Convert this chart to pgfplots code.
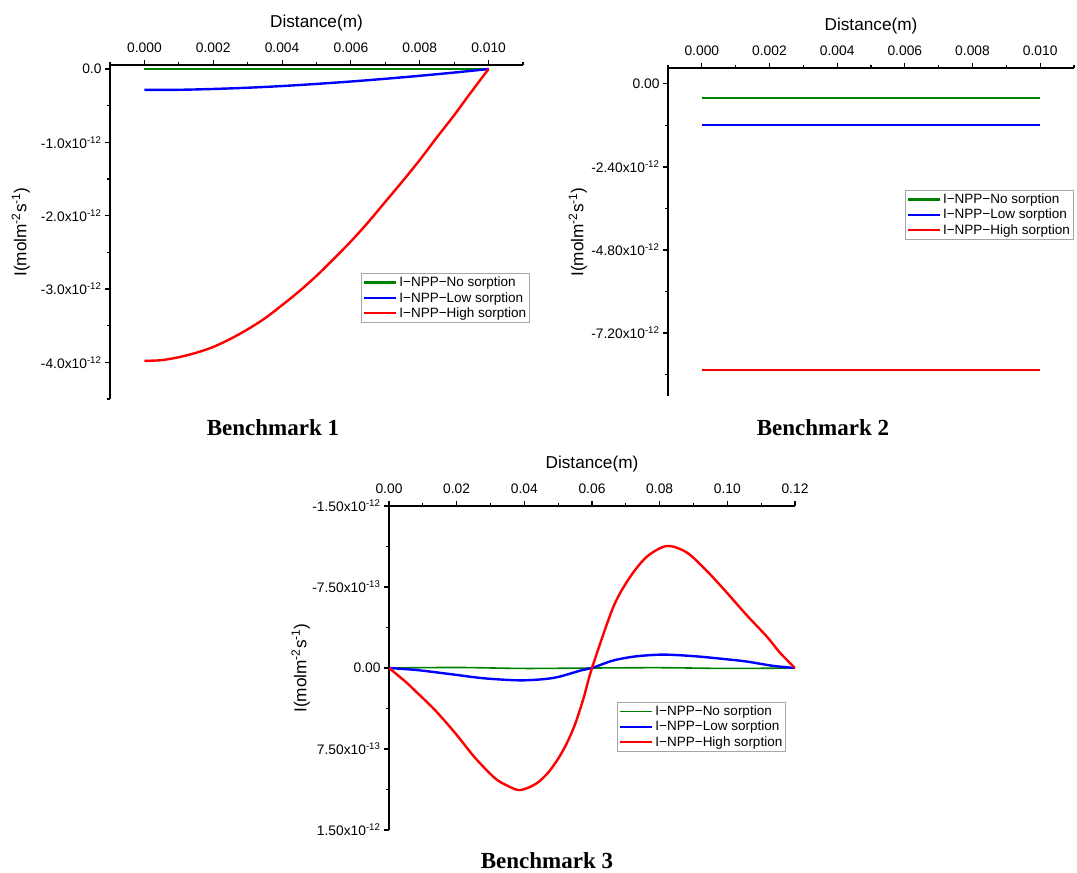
\documentclass[border=0pt]{standalone}
\usepackage{pgfplots}
\pgfplotsset{compat=1.18}
\usepackage{fontspec}
\setmainfont{Liberation Sans}
\newfontfamily\benchfont{Liberation Serif}
\definecolor{cgreen}{RGB}{0,128,0}
\definecolor{cblue}{RGB}{0,0,255}
\definecolor{cred}{RGB}{255,0,0}
\pgfplotsset{
  bench/.style={
    scale only axis,
    axis x line=top, axis y line=left,
    axis line style={-, line width=1.4pt},
    tick align=outside,
    major tick length=5pt, minor tick length=3pt,
    every tick/.style={black, line width=1.1pt},
    tick label style={font=\fontsize{13.8}{16}\selectfont},
    xticklabel style={yshift=4pt},
    scaled x ticks=false, scaled y ticks=false,
    label style={font=\fontsize{17.2}{20}\selectfont},
    xlabel={Distance(m)},
    ylabel={I(molm\textsuperscript{-2}s\textsuperscript{-1})},
    xlabel style={at={(axis description cs:0.5,1)}, anchor=center, yshift=42pt},
    legend style={font=\fontsize{13.5}{16.5}\selectfont, draw=gray!70, line width=0.8pt, anchor=north west, inner sep=1.5pt, row sep=0pt},
    legend cell align=left,
    legend image code/.code={\draw[#1] (0pt,0pt) -- (32pt,0pt);},
  }
}
\begin{document}
\begin{tikzpicture}
\useasboundingbox (0pt,0pt) rectangle (1077pt,-873pt);
% ---------------- Benchmark 1
\begin{axis}[bench,
  at={(110pt,-399pt)}, anchor=south west,
  width=413pt, height=334pt,
  xmin=-0.001, xmax=0.011, ymin=-4.5, ymax=0.055,
  xtick={0,0.002,0.004,0.006,0.008,0.010},
  xticklabels={0.000,0.002,0.004,0.006,0.008,0.010},
  minor xtick={-0.001,0.001,0.003,0.005,0.007,0.009,0.011},
  ytick={0,-1,-2,-3,-4},
  yticklabels={0.0,-1.0x10\textsuperscript{-12},-2.0x10\textsuperscript{-12},-3.0x10\textsuperscript{-12},-4.0x10\textsuperscript{-12}},
  minor ytick={-0.5,-1.5,-2.5,-3.5,-4.5},
  ylabel style={at={(axis description cs:-0.216,0.5)}, anchor=center},
  legend style={at={(axis description cs:0.608,0.377)}},
]
\addplot[cgreen, line width=2.4pt] coordinates {(0,0) (0.002,0) (0.004,0) (0.006,0) (0.008,0) (0.010,0)};
\addplot[cblue, line width=2.4pt, smooth] coordinates {(0,-0.285) (0.001,-0.283) (0.002,-0.272) (0.003,-0.255) (0.004,-0.232) (0.005,-0.203) (0.006,-0.170) (0.007,-0.133) (0.008,-0.092) (0.009,-0.048) (0.010,0)};
\addplot[cred, line width=2.4pt, smooth] coordinates {(0,-3.98) (0.0005,-3.97) (0.001,-3.93) (0.0015,-3.87) (0.002,-3.79) (0.0025,-3.68) (0.003,-3.55) (0.0035,-3.40) (0.004,-3.22) (0.0045,-3.03) (0.005,-2.82) (0.0055,-2.59) (0.006,-2.35) (0.0065,-2.09) (0.007,-1.81) (0.0075,-1.53) (0.008,-1.24) (0.0085,-0.93) (0.009,-0.63) (0.0095,-0.31) (0.010,0)};
\legend{I\textminus NPP\textminus No sorption, I\textminus NPP\textminus Low sorption, I\textminus NPP\textminus High sorption}
\end{axis}
% ---------------- Benchmark 2
\begin{axis}[bench,
  at={(668pt,-396pt)}, anchor=south west,
  width=406pt, height=328pt,
  xmin=-0.001, xmax=0.011, ymin=-9.02, ymax=0.46,
  xtick={0,0.002,0.004,0.006,0.008,0.010},
  xticklabels={0.000,0.002,0.004,0.006,0.008,0.010},
  minor xtick={-0.001,0.001,0.003,0.005,0.007,0.009,0.011},
  ytick={0,-2.4,-4.8,-7.2},
  yticklabels={0.00,-2.40x10\textsuperscript{-12},-4.80x10\textsuperscript{-12},-7.20x10\textsuperscript{-12}},
  minor ytick={-1.2,-3.6,-6.0,-8.4},
  ylabel style={at={(axis description cs:-0.222,0.5)}, anchor=center},
  legend style={at={(axis description cs:0.583,0.628)}},
]
\addplot[cgreen, line width=2.4pt] coordinates {(0,-0.40) (0.002,-0.40) (0.004,-0.40) (0.006,-0.40) (0.008,-0.40) (0.010,-0.40)};
\addplot[cblue, line width=2.4pt] coordinates {(0,-1.19) (0.002,-1.19) (0.004,-1.19) (0.006,-1.19) (0.008,-1.19) (0.010,-1.19)};
\addplot[cred, line width=2.4pt] coordinates {(0,-8.27) (0.002,-8.27) (0.004,-8.27) (0.006,-8.27) (0.008,-8.27) (0.010,-8.27)};
\legend{I\textminus NPP\textminus No sorption, I\textminus NPP\textminus Low sorption, I\textminus NPP\textminus High sorption}
\end{axis}
% ---------------- Benchmark 3
\begin{axis}[bench,
  at={(389pt,-830pt)}, anchor=south west,
  width=406pt, height=324pt,
  y dir=reverse,
  xmin=0, xmax=0.12, ymin=-1.5, ymax=1.5,
  xtick={0,0.02,0.04,0.06,0.08,0.10,0.12},
  xticklabels={0.00,0.02,0.04,0.06,0.08,0.10,0.12},
  minor xtick={0.01,0.03,0.05,0.07,0.09,0.11},
  ytick={-1.5,-0.75,0,0.75,1.5},
  yticklabels={-1.50x10\textsuperscript{-12},-7.50x10\textsuperscript{-13},0.00,7.50x10\textsuperscript{-13},1.50x10\textsuperscript{-12}},
  minor ytick={-1.125,-0.375,0.375,1.125},
  ylabel style={at={(axis description cs:-0.2175,0.5)}, anchor=center},
  legend style={at={(axis description cs:0.562,0.395)}},
]
\addplot[cgreen, line width=1.6pt, smooth] coordinates {(0,0) (0.02,-0.005) (0.04,0.004) (0.06,0) (0.08,-0.003) (0.10,0.004) (0.12,0)};
\addplot[cblue, line width=2.4pt, smooth] coordinates {(0,0) (0.0086,0.02) (0.0185,0.058) (0.028,0.095) (0.0382,0.114) (0.045,0.105) (0.05,0.083) (0.057,0.02) (0.06,0) (0.0663,-0.07) (0.073,-0.108) (0.081,-0.124) (0.09,-0.11) (0.0985,-0.085) (0.1057,-0.06) (0.1135,-0.02) (0.12,0)};
\addplot[cred, line width=2.4pt, smooth] coordinates {(0,0) (0.005,0.13) (0.0077,0.21) (0.0136,0.39) (0.0195,0.60) (0.0254,0.83) (0.0313,1.02) (0.035,1.09) (0.0382,1.13) (0.041,1.11) (0.044,1.06) (0.047,0.97) (0.050,0.84) (0.0525,0.70) (0.055,0.52) (0.0575,0.28) (0.06,0) (0.0663,-0.565) (0.0712,-0.84) (0.0762,-1.03) (0.0821,-1.13) (0.088,-1.07) (0.0939,-0.90) (0.0998,-0.70) (0.1057,-0.49) (0.1117,-0.29) (0.1156,-0.14) (0.12,0)};
\legend{I\textminus NPP\textminus No sorption, I\textminus NPP\textminus Low sorption, I\textminus NPP\textminus High sorption}
\end{axis}
\node[font=\benchfont\bfseries\fontsize{23}{27}\selectfont] at (273pt,-428pt) {Benchmark 1};
\node[font=\benchfont\bfseries\fontsize{23}{27}\selectfont] at (823pt,-428pt) {Benchmark 2};
\node[font=\benchfont\bfseries\fontsize{23}{27}\selectfont] at (547pt,-861pt) {Benchmark 3};
\end{tikzpicture}
\end{document}
